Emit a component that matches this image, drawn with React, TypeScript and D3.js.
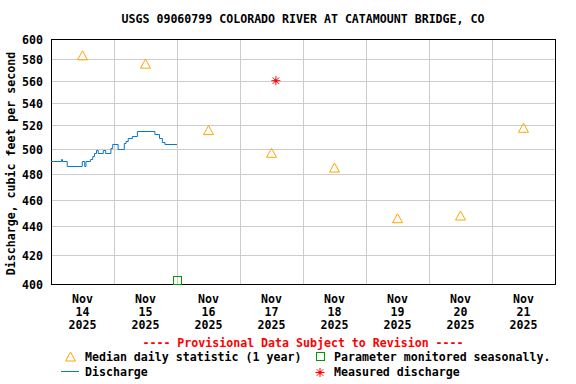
import React from "react";
import * as d3 from "d3";

const TITLE = "USGS 09060799 COLORADO RIVER AT CATAMOUNT BRIDGE, CO";
const Y_TITLE = "Discharge, cubic feet per second";
const PROVISIONAL = "---- Provisional Data Subject to Revision ----";

const yTicks = [400, 420, 440, 460, 480, 500, 520, 540, 560, 580, 600];
const dayLabels = ["14", "15", "16", "17", "18", "19", "20", "21"];
const dayDates = [
  "2025-11-14", "2025-11-15", "2025-11-16", "2025-11-17",
  "2025-11-18", "2025-11-19", "2025-11-20", "2025-11-21",
];

// Median daily statistic (1 year), at noon of each day
const medianValues = [584, 576, 516, 497, 485, 446, 448, 518];

// Discharge (step values), time in UTC-like local clock
const dischargeTimes = [
  "2025-11-14T00:00", "2025-11-14T04:00", "2025-11-14T04:20", "2025-11-14T06:10",
  "2025-11-14T11:55", "2025-11-14T12:50", "2025-11-14T13:20", "2025-11-14T15:05",
  "2025-11-14T15:55", "2025-11-14T16:35", "2025-11-14T17:20", "2025-11-14T18:00",
  "2025-11-14T19:55", "2025-11-14T20:50", "2025-11-14T22:50", "2025-11-14T23:30",
  "2025-11-15T01:35", "2025-11-15T03:55", "2025-11-15T04:35", "2025-11-15T05:25",
  "2025-11-15T07:00", "2025-11-15T08:55", "2025-11-15T15:35", "2025-11-15T17:20",
  "2025-11-15T18:25", "2025-11-15T19:25", "2025-11-16T00:00",
];
const dischargeValues = [
  490, 492, 490, 486,
  490, 486, 490, 492,
  494, 497, 499, 497,
  499, 497, 501, 504,
  500, 505, 507, 509,
  511, 515, 513, 509,
  506, 504, 504,
];

const measuredTimes = ["2025-11-17T13:40"];
const measuredValues = [560];

const seasonalTimes = ["2025-11-16T00:00"];
const seasonalValues = [402.6];

const W = 576;
const H = 384;
const L = 51;
const R = 555;
const T = 39;
const B = 284;

const FONT = "'DejaVu Sans Mono', monospace";
const FS = 11.6;

const parseT = (s: string) => new Date(s + ":00Z");

export default function App() {
  const x = d3
    .scaleUtc()
    .domain([parseT("2025-11-14T00:00"), parseT("2025-11-22T00:00")])
    .range([L, R]);
  const y = d3.scaleLog().domain([400, 600]).range([B, T]);

  const gridDays = d3.utcDay.range(parseT("2025-11-15T00:00"), parseT("2025-11-22T00:00"));

  const discharge = dischargeTimes.map((t, i) => ({ t: parseT(t), v: dischargeValues[i] }));
  const line = d3
    .line<{ t: Date; v: number }>()
    .x((d) => x(d.t))
    .y((d) => Math.round(y(d.v)) + 0.5)
    .curve(d3.curveStepAfter);

  const tri = (cx: number, cy: number) =>
    `M${cx - 5},${cy + 4.5}L${cx + 5},${cy + 4.5}L${cx},${cy - 4.5}Z`;

  const star = (cx: number, cy: number, key: string) => {
    const r = 4.5;
    const d = r * 0.72;
    return (
      <g key={key} stroke="#ff0000" strokeWidth={1}>
        <line x1={cx - r} y1={cy} x2={cx + r} y2={cy} />
        <line x1={cx} y1={cy - r} x2={cx} y2={cy + r} />
        <line x1={cx - d} y1={cy - d} x2={cx + d} y2={cy + d} />
        <line x1={cx - d} y1={cy + d} x2={cx + d} y2={cy - d} />
        <circle cx={cx} cy={cy} r={1.5} fill="#ff0000" stroke="none" />
      </g>
    );
  };

  const textStyle = { fontFamily: FONT, fontSize: FS, fontWeight: "bold" as const };

  return (
    <svg
      width={W}
      height={H}
      style={{ position: "absolute", left: 0, top: 0, background: "#fff" }}
    >
      <rect x={0} y={0} width={W} height={H} fill="#fff" />
      <text x={(L + R) / 2} y={23} textAnchor="middle" style={textStyle} fill="#000">
        {TITLE}
      </text>

      {/* grid */}
      <g stroke="#cccccc" strokeWidth={1}>
        {yTicks.slice(1, -1).map((v) => (
          <line key={v} x1={L} x2={R} y1={Math.round(y(v)) + 0.5} y2={Math.round(y(v)) + 0.5} />
        ))}
        {gridDays.map((d) => (
          <line
            key={d.toISOString()}
            x1={Math.round(x(d)) + 0.5}
            x2={Math.round(x(d)) + 0.5}
            y1={T}
            y2={B}
          />
        ))}
      </g>

      {/* frame */}
      <rect x={L + 0.5} y={T + 0.5} width={R - L} height={B - T} fill="none" stroke="#000" />

      {/* y tick labels */}
      {yTicks.map((v) => (
        <text key={v} x={43} y={y(v) + 5} textAnchor="end" style={textStyle} fill="#000">
          {v}
        </text>
      ))}
      <text
        transform={`translate(14.5, ${(T + B) / 2 + 2}) rotate(-90)`}
        textAnchor="middle"
        style={textStyle}
        fill="#000"
      >
        {Y_TITLE}
      </text>

      {/* x labels */}
      {dayDates.map((d, i) => {
        const cx = x(parseT(d + "T12:00"));
        return (
          <g key={d}>
            <text x={cx} y={302.5} textAnchor="middle" style={textStyle} fill="#000">Nov</text>
            <text x={cx} y={316} textAnchor="middle" style={textStyle} fill="#000">{dayLabels[i]}</text>
            <text x={cx} y={328.5} textAnchor="middle" style={textStyle} fill="#000">2025</text>
          </g>
        );
      })}

      {/* discharge line */}
      <path d={line(discharge) || ""} fill="none" stroke="#0a77cc" strokeWidth={1} />

      {/* median triangles */}
      {dayDates.map((d, i) => (
        <path
          key={"m" + d}
          d={tri(x(parseT(d + "T12:00")), y(medianValues[i]))}
          fill="none"
          stroke="#ffa500"
          strokeWidth={1}
        />
      ))}

      {/* seasonal square */}
      {seasonalTimes.map((t, i) => (
        <rect
          key={"s" + t}
          x={Math.round(x(parseT(t))) - 3.5}
          y={Math.round(y(seasonalValues[i])) - 3.5}
          width={8}
          height={8}
          fill="none"
          stroke="#009a00"
        />
      ))}

      {/* measured */}
      {measuredTimes.map((t, i) => star(x(parseT(t)), y(measuredValues[i]), "ms" + t))}

      {/* provisional */}
      <text x={(L + R) / 2} y={347} textAnchor="middle" style={textStyle} fill="#ff0000">
        {PROVISIONAL}
      </text>

      {/* legend */}
      <path d={tri(70.5, 356.5)} fill="none" stroke="#ffa500" />
      <text x={85} y={361} style={textStyle} fill="#000">Median daily statistic (1 year)</text>
      <rect x={316.5} y={352.5} width={8} height={8} fill="none" stroke="#009a00" />
      <text x={334} y={361} style={textStyle} fill="#000">Parameter monitored seasonally.</text>
      <line x1={61} x2={79} y1={371.5} y2={371.5} stroke="#0a77cc" />
      <text x={85} y={376} style={textStyle} fill="#000">Discharge</text>
      {star(320, 372.5, "legstar")}
      <text x={334} y={376} style={textStyle} fill="#000">Measured discharge</text>
    </svg>
  );
}
